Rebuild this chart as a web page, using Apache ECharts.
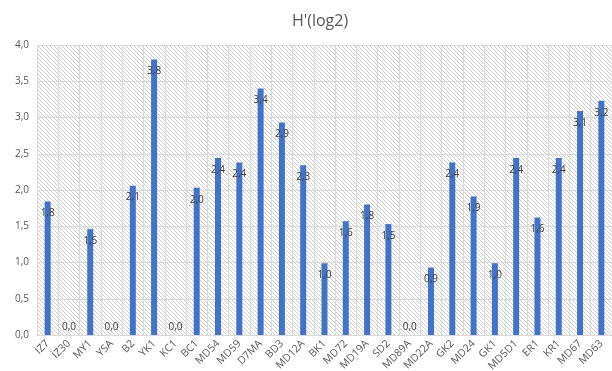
<!DOCTYPE html>
<html>
<head>
<meta charset="utf-8">
<script src="https://cdn.jsdelivr.net/npm/echarts@6/dist/echarts.min.js"></script>
<style>
  html, body { margin: 0; padding: 0; background: #fff; }
  #chart { width: 612px; height: 371px; }
</style>
</head>
<body>
<div id="chart"></div>
<script>
// Sample stations and their Shannon diversity index H'(log2)
const stations = ['İZ7', 'İZ30', 'MY1', 'YSA', 'B2', 'YK1', 'KC1', 'BC1', 'MD54', 'MD59',
  'D7MA', 'BD3', 'MD12A', 'BK1', 'MD72', 'MD19A', 'SD2', 'MD89A', 'MD22A', 'GK2',
  'MD24', 'GK1', 'MD5D1', 'ER1', 'KR1', 'MD67', 'MD63'];
const diversity = [1.84, 0, 1.46, 0, 2.06, 3.80, 0, 2.03, 2.44, 2.38,
  3.40, 2.93, 2.34, 0.99, 1.57, 1.80, 1.53, 0, 0.93, 2.38,
  1.91, 0.99, 2.44, 1.62, 2.44, 3.09, 3.23];
const yTicks = { min: 0, max: 4, step: 0.5 };

const comma = v => Number(v).toFixed(1).replace('.', ',');

// Light diagonal hatching for the plot background
function hatchPattern() {
  const s = 4;
  const c = document.createElement('canvas');
  c.width = s; c.height = s;
  const g = c.getContext('2d');
  g.fillStyle = '#ffffff';
  g.fillRect(0, 0, s, s);
  g.strokeStyle = '#cfcfcf';
  g.lineWidth = 1;
  g.beginPath();
  g.moveTo(-1, -1); g.lineTo(s + 1, s + 1);
  g.moveTo(-1 - s, -1); g.lineTo(1, s + 1);
  g.moveTo(s - 1, -1); g.lineTo(2 * s + 1, s + 1);
  g.stroke();
  return { image: c, repeat: 'repeat' };
}

const textColor = '#595959';
const gridColor = '#d9d9d9';

const chart = echarts.init(document.getElementById('chart'), null, { renderer: 'canvas' });
chart.setOption({
  animation: false,
  backgroundColor: '#ffffff',
  title: {
    text: "H'(log2)",
    left: 315,
    textAlign: 'center',
    top: 8,
    textStyle: { color: textColor, fontSize: 16, fontWeight: 'normal', fontFamily: 'Open Sans' }
  },
  grid: {
    left: 37, right: 0, top: 45, bottom: 36,
    outerBoundsMode: 'none',
    containLabel: false,
    show: true,
    backgroundColor: hatchPattern(),
    borderWidth: 0
  },
  xAxis: {
    type: 'category',
    data: stations,
    axisLine: { show: true, lineStyle: { color: gridColor } },
    axisTick: { show: false },
    splitLine: { show: true, interval: 0, lineStyle: { color: gridColor, width: 1 } },
    axisLabel: {
      interval: 0, rotate: 45, color: textColor, fontSize: 10.5,
      fontFamily: 'Open Sans', margin: 7
    }
  },
  yAxis: {
    type: 'value',
    min: yTicks.min, max: yTicks.max, interval: yTicks.step,
    axisLine: { show: false },
    axisTick: { show: false },
    splitLine: { show: true, lineStyle: { color: gridColor, width: 1 } },
    axisLabel: {
      color: textColor, fontSize: 10, fontFamily: 'Open Sans', margin: 8,
      formatter: v => comma(v)
    }
  },
  series: [{
    type: 'bar',
    barWidth: 6,
    data: diversity.map(v => v === 0
      ? { value: v, label: { position: 'top', distance: 3 } }
      : { value: v }),
    itemStyle: { color: '#4472C4' },
    label: {
      show: true,
      position: 'insideTop',
      distance: 7,
      color: '#404040',
      fontSize: 10,
      fontFamily: 'Open Sans',
      formatter: p => comma(p.value)
    }
  }]
});
</script>
</body>
</html>
